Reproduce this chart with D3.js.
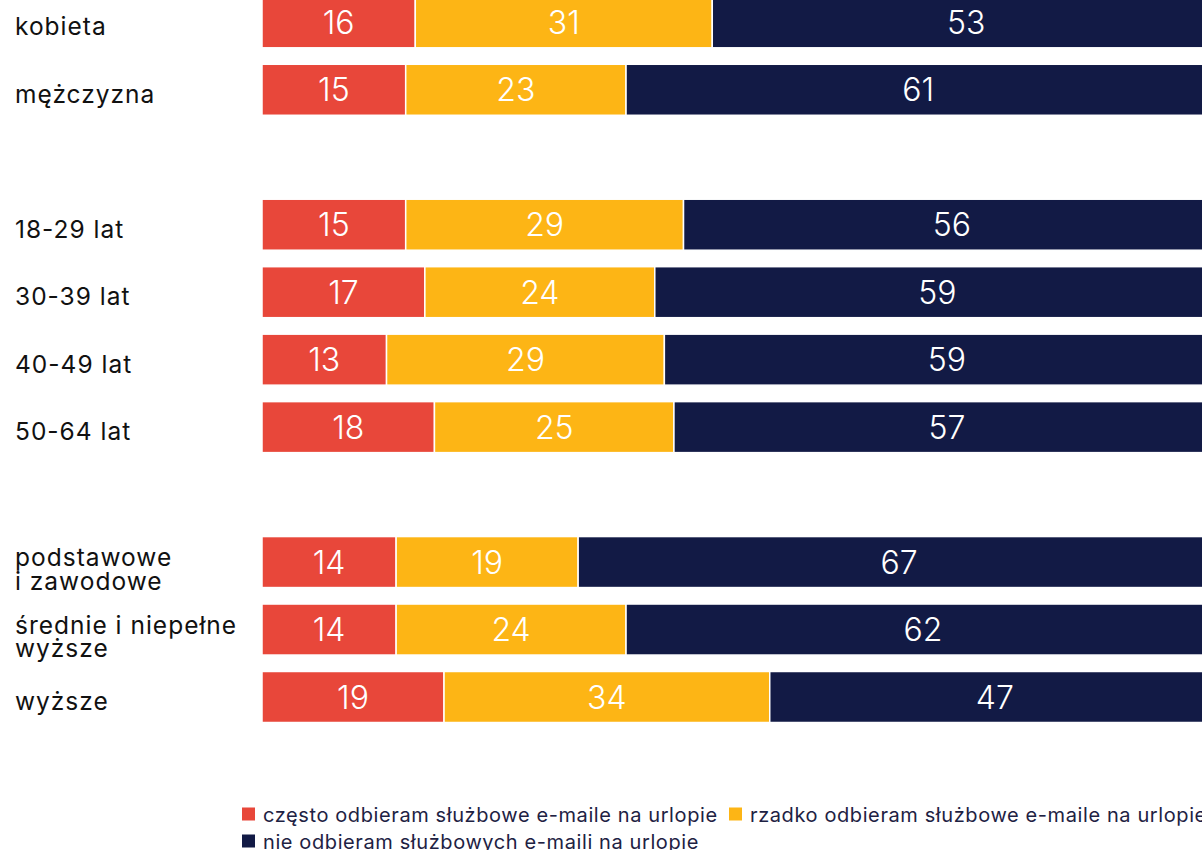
<!DOCTYPE html>
<html>
<head>
<meta charset="utf-8">
<script src="https://cdn.jsdelivr.net/npm/d3@7"></script>
<style>
  body { margin: 0; background: #fff; overflow: hidden; }
  svg { display: block; font-family: Inter, "Open Sans", sans-serif; }
</style>
</head>
<body>
<div id="chart"></div>
<script>
// categories (gap1/gap2 are the empty rows between groups)
var categories = ["kobieta", "mężczyzna", "gap1", "18-29 lat", "30-39 lat", "40-49 lat", "50-64 lat", "gap2",
    "podstawowe\ni zawodowe", "średnie i niepełne\nwyższe", "wyższe"];
var often = [16, 15, null, 15, 17, 13, 18, null, 14, 14, 19];
var rarely = [31, 23, null, 29, 24, 29, 25, null, 19, 24, 34];
var never = [53, 61, null, 56, 59, 59, 57, null, 67, 62, 47];
var seriesNames = ["często odbieram służbowe e-maile na urlopie", "rzadko odbieram służbowe e-maile na urlopie",
    "nie odbieram służbowych e-maili na urlopie"];
var colors = ["#e8473a", "#fdb515", "#121a45"];

var width = 1202, height = 850;

var rows = categories.map(function (c, i) {
    return { cat: c, often: often[i], rarely: rarely[i], never: never[i] };
});
var data = rows.filter(function (d) { return d.often != null; });

var svg = d3.select("#chart").append("svg")
    .attr("width", width)
    .attr("height", height);

var x = d3.scaleLinear().domain([0, 100]).range([262, 1220]);
var y = d3.scaleBand().domain(categories).range([-3.2, 722.5]).paddingInner(0.244).paddingOuter(0);

var stack = d3.stack().keys(["often", "rarely", "never"]);
var series = stack(data);

var layer = svg.selectAll(".layer")
    .data(series)
    .enter().append("g")
    .attr("class", "layer")
    .attr("fill", function (d, i) { return colors[i]; });

layer.selectAll("rect")
    .data(function (d) { return d; })
    .enter().append("rect")
    .attr("x", function (d) { return x(d[0]); })
    .attr("y", function (d) { return y(d.data.cat); })
    .attr("width", function (d) { return x(d[1]) - x(d[0]); })
    .attr("height", y.bandwidth())
    .attr("stroke", "#fff")
    .attr("stroke-width", 1.5);

layer.selectAll("text")
    .data(function (d) { return d; })
    .enter().append("text")
    .attr("x", function (d) { return (x(d[0]) + x(d[1])) / 2; })
    .attr("y", function (d) { return y(d.data.cat) + y.bandwidth() / 2; })
    .attr("dy", "0.36em")
    .attr("text-anchor", "middle")
    .attr("fill", "#fff")
    .attr("font-size", 32)
    .attr("font-weight", 300)
    .text(function (d) { return d[1] - d[0]; });

// category labels
var labels = svg.selectAll(".label")
    .data(data)
    .enter().append("text")
    .attr("class", "label")
    .attr("x", 15)
    .attr("y", function (d) {
        var n = d.cat.split("\n").length;
        return y(d.cat) + y.bandwidth() / 2 + (n > 1 ? 4 : 13);
    })
    .attr("fill", "#111")
    .attr("font-size", 24.5)
    .attr("letter-spacing", 1);

labels.selectAll("tspan")
    .data(function (d) { return d.cat.split("\n"); })
    .enter().append("tspan")
    .attr("x", 15)
    .attr("dy", function (d, i) { return i == 0 ? 0 : 23.5; })
    .text(function (d) { return d; });

// legend
var legendPos = [[242, 814], [729, 814], [242, 841]];
var legend = svg.selectAll(".legend")
    .data(seriesNames)
    .enter().append("g")
    .attr("class", "legend")
    .attr("transform", function (d, i) { return "translate(" + legendPos[i][0] + "," + legendPos[i][1] + ")"; });

legend.append("rect")
    .attr("x", 0)
    .attr("y", -6.5)
    .attr("width", 13)
    .attr("height", 13)
    .attr("fill", function (d, i) { return colors[i]; });

legend.append("text")
    .attr("x", 21)
    .attr("dy", "0.38em")
    .attr("font-size", 20)
    .attr("letter-spacing", 0.6)
    .attr("fill", "#1e2243")
    .text(function (d) { return d; });
</script>
</body>
</html>
